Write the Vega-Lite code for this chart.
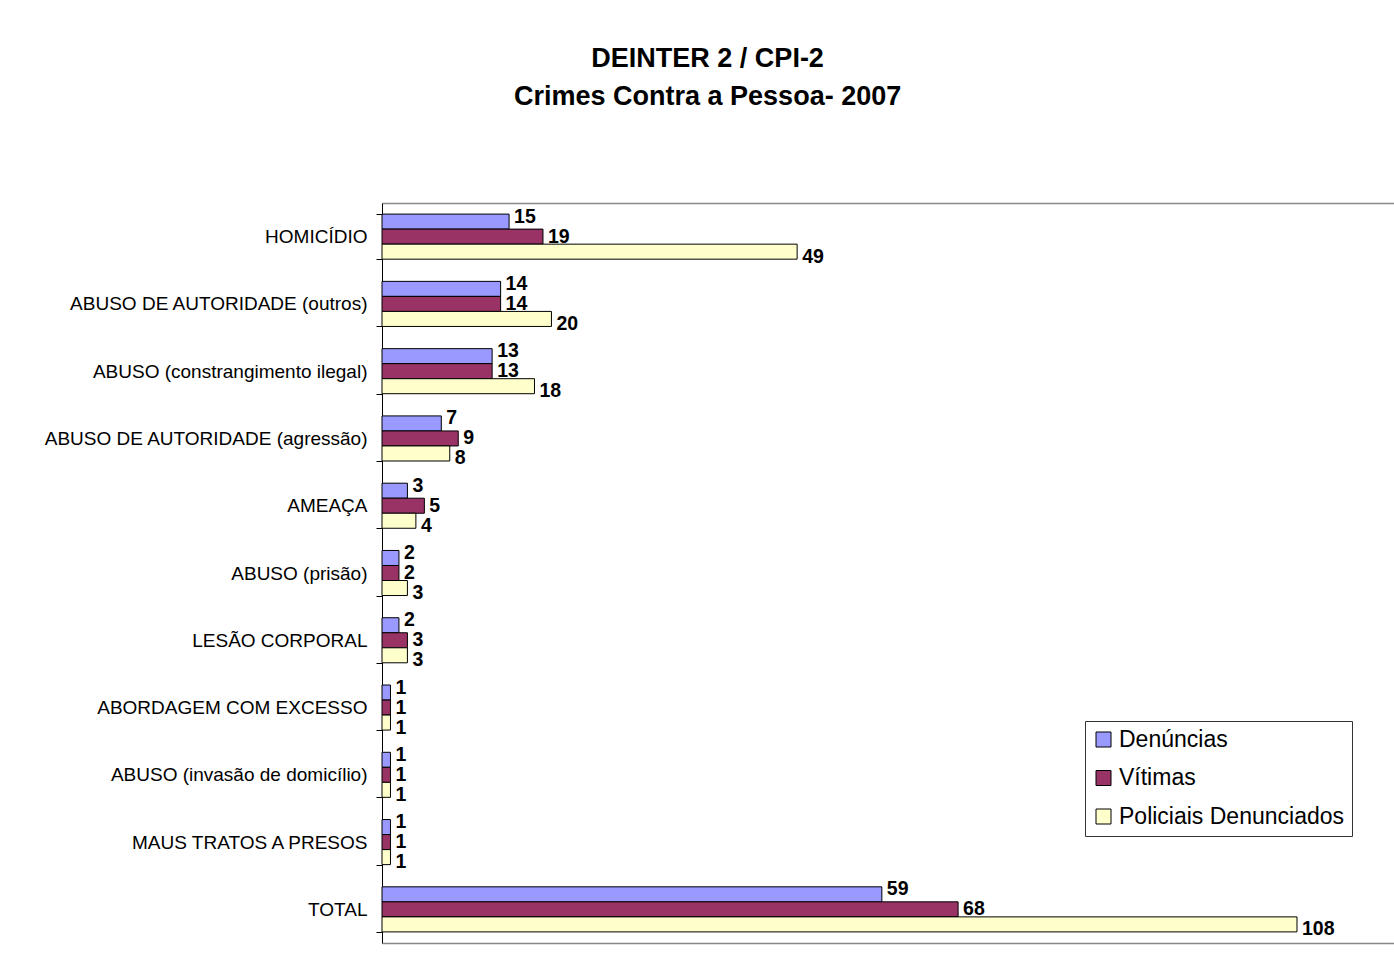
{
  "$schema": "https://vega.github.io/schema/vega-lite/v6.json",
  "autosize": {"type": "none"},
  "padding": {"left": 382, "top": 203, "right": 0, "bottom": 30},
  "width": 1012,
  "height": 740,
  "background": "white",
  "title": {
    "text": ["DEINTER 2 / CPI-2", "Crimes Contra a Pessoa- 2007"],
    "font": "Liberation Sans",
    "fontSize": 27,
    "fontWeight": "bold",
    "color": "black",
    "lineHeight": 38,
    "anchor": "middle",
    "frame": "bounds",
    "offset": 83,
    "dx": -11
  },
  "config": {
    "font": "Liberation Sans",
    "view": {"stroke": null}
  },
  "data": {
    "values": [
      {"categoria": "HOMICÍDIO", "serie": "Denúncias", "valor": 15},
      {"categoria": "HOMICÍDIO", "serie": "Vítimas", "valor": 19},
      {"categoria": "HOMICÍDIO", "serie": "Policiais Denunciados", "valor": 49},
      {"categoria": "ABUSO DE AUTORIDADE (outros)", "serie": "Denúncias", "valor": 14},
      {"categoria": "ABUSO DE AUTORIDADE (outros)", "serie": "Vítimas", "valor": 14},
      {"categoria": "ABUSO DE AUTORIDADE (outros)", "serie": "Policiais Denunciados", "valor": 20},
      {"categoria": "ABUSO (constrangimento ilegal)", "serie": "Denúncias", "valor": 13},
      {"categoria": "ABUSO (constrangimento ilegal)", "serie": "Vítimas", "valor": 13},
      {"categoria": "ABUSO (constrangimento ilegal)", "serie": "Policiais Denunciados", "valor": 18},
      {"categoria": "ABUSO DE AUTORIDADE (agressão)", "serie": "Denúncias", "valor": 7},
      {"categoria": "ABUSO DE AUTORIDADE (agressão)", "serie": "Vítimas", "valor": 9},
      {"categoria": "ABUSO DE AUTORIDADE (agressão)", "serie": "Policiais Denunciados", "valor": 8},
      {"categoria": "AMEAÇA", "serie": "Denúncias", "valor": 3},
      {"categoria": "AMEAÇA", "serie": "Vítimas", "valor": 5},
      {"categoria": "AMEAÇA", "serie": "Policiais Denunciados", "valor": 4},
      {"categoria": "ABUSO (prisão)", "serie": "Denúncias", "valor": 2},
      {"categoria": "ABUSO (prisão)", "serie": "Vítimas", "valor": 2},
      {"categoria": "ABUSO (prisão)", "serie": "Policiais Denunciados", "valor": 3},
      {"categoria": "LESÃO CORPORAL", "serie": "Denúncias", "valor": 2},
      {"categoria": "LESÃO CORPORAL", "serie": "Vítimas", "valor": 3},
      {"categoria": "LESÃO CORPORAL", "serie": "Policiais Denunciados", "valor": 3},
      {"categoria": "ABORDAGEM COM EXCESSO", "serie": "Denúncias", "valor": 1},
      {"categoria": "ABORDAGEM COM EXCESSO", "serie": "Vítimas", "valor": 1},
      {"categoria": "ABORDAGEM COM EXCESSO", "serie": "Policiais Denunciados", "valor": 1},
      {"categoria": "ABUSO (invasão de domicílio)", "serie": "Denúncias", "valor": 1},
      {"categoria": "ABUSO (invasão de domicílio)", "serie": "Vítimas", "valor": 1},
      {"categoria": "ABUSO (invasão de domicílio)", "serie": "Policiais Denunciados", "valor": 1},
      {"categoria": "MAUS TRATOS A PRESOS", "serie": "Denúncias", "valor": 1},
      {"categoria": "MAUS TRATOS A PRESOS", "serie": "Vítimas", "valor": 1},
      {"categoria": "MAUS TRATOS A PRESOS", "serie": "Policiais Denunciados", "valor": 1},
      {"categoria": "TOTAL", "serie": "Denúncias", "valor": 59},
      {"categoria": "TOTAL", "serie": "Vítimas", "valor": 68},
      {"categoria": "TOTAL", "serie": "Policiais Denunciados", "valor": 108}
    ]
  },
  "encoding": {
    "y": {
      "field": "categoria",
      "type": "nominal",
      "sort": null,
      "scale": {"paddingInner": 0.33, "paddingOuter": 0.165},
      "axis": {
        "title": null,
        "tickBand": "extent",
        "tickSize": 6,
        "tickColor": "black",
        "domainColor": "black",
        "domainWidth": 1,
        "labelPadding": 9,
        "labelFontSize": 19,
        "labelColor": "black",
        "labelFont": "Liberation Sans",
        "labelLimit": 400
      }
    }
  },
  "layer": [
    {
      "mark": {"type": "bar", "stroke": "black", "strokeWidth": 1},
      "encoding": {
        "yOffset": {
          "field": "serie",
          "type": "nominal",
          "sort": ["Denúncias", "Vítimas", "Policiais Denunciados"]
        },
        "x": {
          "field": "valor",
          "type": "quantitative",
          "scale": {"domain": [0, 119.45], "nice": false},
          "axis": {
            "orient": "bottom",
            "title": null,
            "labels": false,
            "ticks": false,
            "grid": false,
            "domainColor": "#888888",
            "domainWidth": 1.5
          }
        },
        "color": {
          "field": "serie",
          "type": "nominal",
          "sort": ["Denúncias", "Vítimas", "Policiais Denunciados"],
          "scale": {
            "domain": ["Denúncias", "Vítimas", "Policiais Denunciados"],
            "range": ["#9999FF", "#993366", "#FFFFCC"]
          },
          "legend": {
            "title": null,
            "orient": "none",
            "legendX": 703,
            "legendY": 518,
            "padding": 7,
            "strokeColor": "#333333",
            "fillColor": "white",
            "symbolType": "square",
            "symbolSize": 225,
            "symbolStrokeColor": "black",
            "symbolStrokeWidth": 1,
            "labelFontSize": 23,
            "labelFont": "Liberation Sans",
            "labelColor": "black",
            "labelOffset": 4,
            "rowPadding": 14.5,
            "labelLimit": 400
          }
        }
      }
    },
    {
      "mark": {
        "type": "text",
        "align": "left",
        "baseline": "middle",
        "dx": 5,
        "dy": 0,
        "fontSize": 19.5,
        "fontWeight": "bold",
        "color": "black",
        "font": "Liberation Sans"
      },
      "encoding": {
        "yOffset": {
          "field": "serie",
          "type": "nominal",
          "sort": ["Denúncias", "Vítimas", "Policiais Denunciados"],
          "scale": {"range": [-7.5, 52.5]}
        },
        "x": {
          "field": "valor",
          "type": "quantitative",
          "scale": {"domain": [0, 119.45], "nice": false},
          "axis": {
            "orient": "top",
            "title": null,
            "labels": false,
            "ticks": false,
            "grid": false,
            "domainColor": "#888888",
            "domainWidth": 1.5
          }
        },
        "text": {"field": "valor", "type": "quantitative"}
      }
    }
  ],
  "resolve": {"axis": {"x": "independent"}, "scale": {"yOffset": "independent"}}
}
